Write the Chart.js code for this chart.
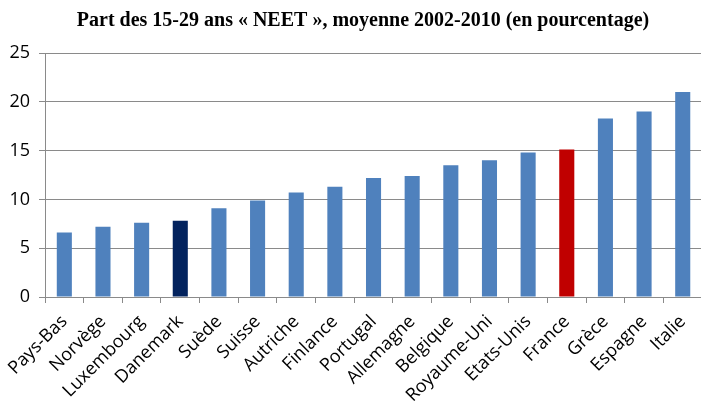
<!DOCTYPE html>
<html>
<head>
<meta charset="utf-8">
<script src="https://cdn.jsdelivr.net/npm/chart.js@4/dist/chart.umd.min.js"></script>
<style>
html,body{margin:0;padding:0;overflow:hidden;background:#fff;}
#wrap{width:706px;height:401px;position:relative;}
</style>
</head>
<body>
<div id="wrap"><canvas id="c" width="706" height="401"></canvas></div>
<script>
const categories = ["Pays-Bas","Norvège","Luxembourg","Danemark","Suède","Suisse","Autriche","Finlance","Portugal","Allemagne","Belgique","Royaume-Uni","Etats-Unis","France","Grèce","Espagne","Italie"];
const neetShare = [6.6,7.2,7.6,7.8,9.1,9.9,10.7,11.3,12.2,12.4,13.5,14.0,14.8,15.1,18.3,19.0,21.0];
const yTicks = [0,5,10,15,20,25];
const titleText = "Part des 15-29 ans « NEET », moyenne 2002-2010 (en pourcentage)";

const highlight = {"Danemark":"#03235E","France":"#C00000"};
const barColors = categories.map(c => highlight[c] || "#4F81BD");

const titlePlugin = {
  id: 'customTitle',
  afterDraw(chart) {
    const ctx = chart.ctx;
    ctx.save();
    ctx.font = 'bold 20px "Liberation Serif", "Times New Roman", serif';
    ctx.fillStyle = '#000';
    ctx.textAlign = 'center';
    ctx.textBaseline = 'alphabetic';
    ctx.fillText(titleText, 363, 26);
    ctx.restore();
  }
};

new Chart(document.getElementById('c'), {
  type: 'bar',
  data: {
    labels: categories,
    datasets: [{
      data: neetShare,
      backgroundColor: barColors,
      borderWidth: 0,
      categoryPercentage: 1,
      barPercentage: 0.39
    }]
  },
  plugins: [titlePlugin],
  options: {
    responsive: false,
    animation: false,
    layout: { padding: { left: 0, right: 0, top: 53, bottom: 0 } },
    plugins: {
      legend: { display: false },
      tooltip: { enabled: false },
      title: { display: false }
    },
    scales: {
      y: {
        min: 0, max: 25,
        afterBuildTicks: s => { s.ticks = yTicks.map(v => ({ value: v })); },
        afterFit: s => { s.width = 45; },
        border: { color: '#8A8A8A', width: 1 },
        grid: { color: '#8A8A8A', lineWidth: 1, tickLength: 6, drawTicks: true },
        ticks: { color: '#000', padding: 9, font: { family: '"Open Sans", sans-serif', size: 18 } }
      },
      x: {
        afterFit: s => { s.height = 104; },
        border: { color: '#8A8A8A', width: 1 },
        grid: { drawOnChartArea: false, drawTicks: true, tickLength: 6, color: '#8A8A8A', offset: true },
        ticks: { color: '#000', minRotation: 45, maxRotation: 45, autoSkip: false, padding: 8, font: { family: '"Open Sans", sans-serif', size: 18 } }
      }
    }
  }
});
</script>
</body>
</html>
